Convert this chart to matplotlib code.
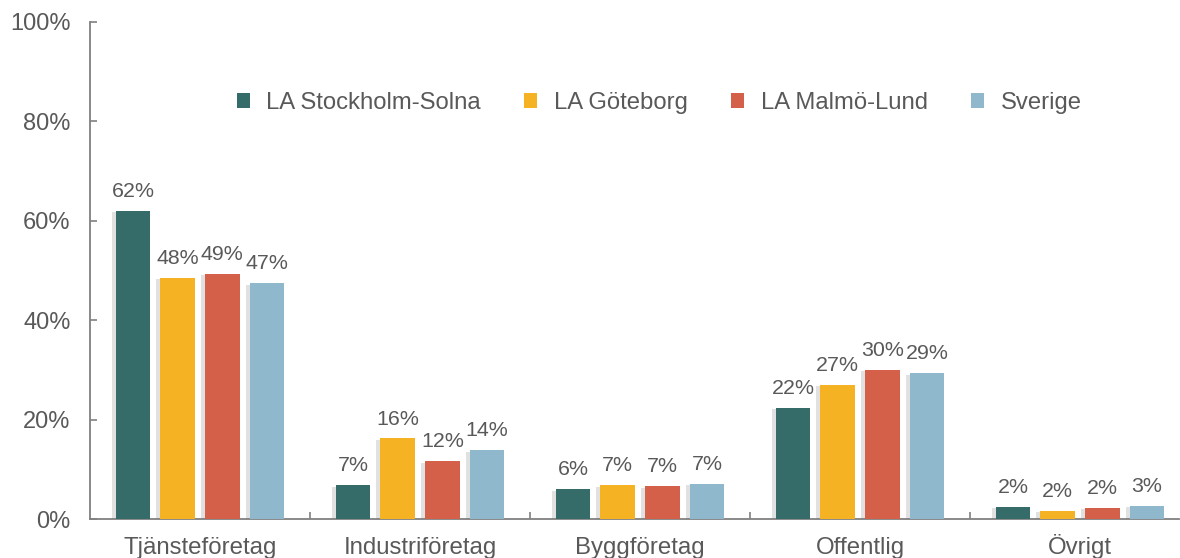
import matplotlib
matplotlib.use("Agg")
import matplotlib.pyplot as plt
import matplotlib.patheffects as pe
import numpy as np

plt.rcParams['font.family'] = ['Liberation Sans', 'DejaVu Sans']

categories = ["Tjänsteföretag", "Industriföretag", "Byggföretag", "Offentlig", "Övrigt"]
series_names = ["LA Stockholm-Solna", "LA Göteborg", "LA Malmö-Lund", "Sverige"]
stockholm = [62.0, 6.8, 6.0, 22.4, 2.4]
goteborg = [48.5, 16.2, 6.8, 27.0, 1.7]
malmo = [49.3, 11.6, 6.6, 30.0, 2.3]
sverige = [47.4, 13.8, 7.1, 29.3, 2.7]
values = [stockholm, goteborg, malmo, sverige]
colors = ["#356B69", "#F5B223", "#D5604A", "#8FB8CC"]
yticks = [0, 20, 40, 60, 80, 100]
ytick_labels = ["0%", "20%", "40%", "60%", "80%", "100%"]

text_color = "#595959"
W, H = 1180, 558
fig = plt.figure(figsize=(W / 100, H / 100), dpi=100)
ax = fig.add_axes([90 / W, 39 / H, 1089 / W, 497 / H])

x = np.arange(len(categories))
step = 0.203
width = 0.157
offsets = (np.arange(len(series_names)) - 1.5) * step
shadow = [pe.SimplePatchShadow(offset=(-3, -1), shadow_rgbFace="#777777", alpha=0.22), pe.Normal()]
for i, (name, vals, c) in enumerate(zip(series_names, values, colors)):
    bars = ax.bar(x + offsets[i], vals, width, color=c, label=name, zorder=3)
    for b in bars:
        b.set_path_effects(shadow)
    for xi, v in zip(x + offsets[i], vals):
        ax.text(xi, v + 2.0, f"{round(v):d}%", ha="center", va="bottom",
                fontsize=15.4, color=text_color)

ax.set_xlim(-0.5, -0.5 + 1089 / 220)
ax.set_ylim(0, 100)
ax.set_yticks(yticks)
ax.set_yticklabels(ytick_labels)
ax.set_xticks(x)
ax.set_xticklabels(categories, va="baseline")
ax.set_xticks(np.arange(0.5, 4.5, 1.0), minor=True)
ax.tick_params(axis="x", which="major", length=0, pad=25.5, labelsize=17.3, labelcolor=text_color)
ax.tick_params(axis="x", which="minor", direction="in", length=5, color="#808080", width=1.2)
ax.tick_params(axis="y", direction="in", length=5, color="#808080", width=1.2,
               pad=14, labelsize=17, labelcolor=text_color)
for s in ["top", "right"]:
    ax.spines[s].set_visible(False)
for s in ["left", "bottom"]:
    ax.spines[s].set_color("#808080")
    ax.spines[s].set_linewidth(1.3)

leg = ax.legend(loc="center", bbox_to_anchor=(659 / W, (558 - 103) / H),
                bbox_transform=fig.transFigure, ncol=4, frameon=False,
                fontsize=17.2, handlelength=0.55, handleheight=0.55,
                handletextpad=0.7, columnspacing=1.8)
for t in leg.get_texts():
    t.set_color(text_color)
for h in leg.legend_handles:
    h.set_path_effects([])

fig.savefig("out.png", dpi=100)
